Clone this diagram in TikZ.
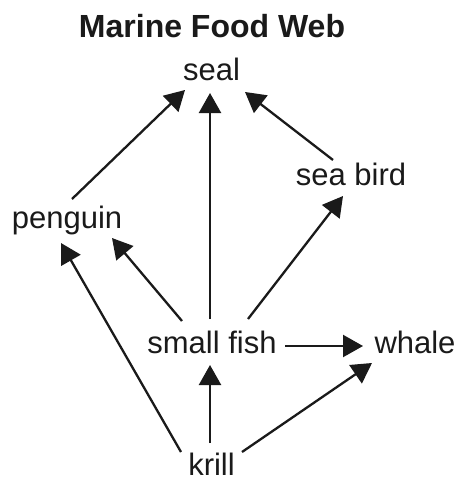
\documentclass[tikz,border=0pt]{standalone}
\usepackage{fontspec}
\setmainfont{Liberation Sans}
\usetikzlibrary{arrows.meta,calc}
\definecolor{ink}{HTML}{1A1A1A}
\tikzset{
  lbl/.style={anchor=base, inner sep=0pt, text=ink, font=\fontsize{31}{36}\selectfont},
  ttl/.style={anchor=base, inner sep=0pt, text=ink, font=\fontsize{32}{38}\selectfont\bfseries},
  arr/.style={draw=ink, line width=2.3pt, -{Triangle[length=20pt,width=22pt]}}
}
\begin{document}
\begin{tikzpicture}[x=1pt,y=-1pt]
\useasboundingbox[fill=white] (0,0) rectangle (461,479);
\node[ttl] (title) at (212,37) {Marine Food Web};
\node[lbl] (seal) at (211.5,80) {seal};
\node[lbl] (seabird) at (351,185) {sea bird};
\node[lbl] (penguin) at (67,228) {penguin};
\node[lbl] (small) at (212,353) {small fish};
\node[lbl] (whale) at (415,353) {whale};
\node[lbl] (krill) at (211.5,475) {krill};
% arrows
\draw[arr] ($(penguin.base)+(5,-29)$) -- ($(seal.base)+(-26.5,10)$);
\draw[arr] ($(small.base)+(-2,-34)$) -- ($(seal.base)+(-1.5,13)$);
\draw[arr] ($(seabird.base)+(-18,-25)$) -- ($(seal.base)+(33.5,12)$);
\draw[arr] ($(small.base)+(36,-34)$) -- ($(seabird.base)+(-8,11)$);
\draw[arr] ($(small.base)+(-30,-32)$) -- ($(penguin.base)+(45,10)$);
\draw[arr] ($(krill.base)+(-30.5,-23)$) -- ($(penguin.base)+(-6,15)$);
\draw[arr] ($(small.base)+(73,-7)$) -- ($(whale.base)+(-52,-7)$);
\draw[arr] ($(krill.base)+(-1.5,-32)$) -- ($(small.base)+(-2,12)$);
\draw[arr] ($(krill.base)+(30.5,-23)$) -- ($(whale.base)+(-43,10)$);
\end{tikzpicture}
\end{document}
